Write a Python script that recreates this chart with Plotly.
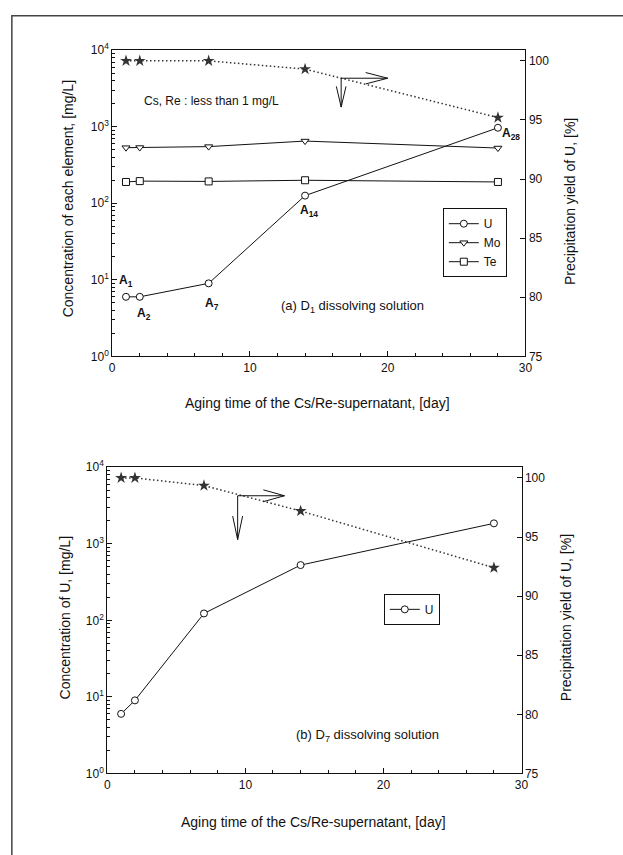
import plotly.graph_objects as go

W, H = 623, 855

# ---------------- data ----------------
days_a = [1, 2, 7, 14, 28]
u_a = [6.0, 6.0, 9.0, 126, 970]
mo_a = [533, 535, 550, 650, 527]
te_a = [190, 195, 193, 200, 190]
yield_a = [100.0, 100.0, 100.0, 99.3, 95.2]

days_b = [1, 2, 7, 14, 28]
u_b = [6.0, 9.0, 123, 527, 1850]
yield_b = [100.0, 100.0, 99.35, 97.2, 92.4]

point_labels_a = ["A<sub>1</sub>", "A<sub>2</sub>", "A<sub>7</sub>", "A<sub>14</sub>", "A<sub>28</sub>"]

log_tickvals = [1, 10, 100, 1000, 10000]
log_ticktext = ["10<sup>0</sup>", "10<sup>1</sup>", "10<sup>2</sup>", "10<sup>3</sup>", "10<sup>4</sup>"]
yield_ticks = [75, 80, 85, 90, 95, 100]

FONT = "Liberation Sans, Arial, sans-serif"
BLACK = "#111111"


def px_x(p):
    return p / W


def px_y(p):
    return 1 - p / H


# axes domains (pixel geometry of the reference)
top_x = [px_x(111), px_x(531)]
top_y = [px_y(354), px_y(42)]
bot_x = [px_x(106), px_x(527)]
bot_y = [px_y(779), px_y(467)]

fig = go.Figure()

line_style = dict(color=BLACK, width=1)
mk = dict(size=7, color="white", line=dict(color=BLACK, width=1))
star_line = dict(color="#333333", width=1.5, dash="1.5px,2.5px")
star_marker = dict(symbol="star", size=9, color="#333333")

# ---- top panel ----
fig.add_trace(go.Scatter(x=days_a, y=u_a, mode="lines+markers", name="U",
                         line=line_style, marker=dict(symbol="circle", **mk),
                         xaxis="x", yaxis="y", legend="legend"))
fig.add_trace(go.Scatter(x=days_a, y=mo_a, mode="lines+markers", name="Mo",
                         line=line_style, marker=dict(symbol="triangle-down", **mk),
                         xaxis="x", yaxis="y", legend="legend"))
fig.add_trace(go.Scatter(x=days_a, y=te_a, mode="lines+markers", name="Te",
                         line=line_style, marker=dict(symbol="square", **mk),
                         xaxis="x", yaxis="y", legend="legend"))
fig.add_trace(go.Scatter(x=days_a, y=yield_a, mode="lines+markers", showlegend=False,
                         line=star_line, marker=star_marker, xaxis="x", yaxis="y2"))

# ---- bottom panel ----
fig.add_trace(go.Scatter(x=days_b, y=u_b, mode="lines+markers", name="U",
                         line=line_style, marker=dict(symbol="circle", **mk),
                         xaxis="x2", yaxis="y3", legend="legend2"))
fig.add_trace(go.Scatter(x=days_b, y=yield_b, mode="lines+markers", showlegend=False,
                         line=star_line, marker=star_marker, xaxis="x2", yaxis="y4"))

tickfont = dict(family=FONT, size=12, color=BLACK)
minor_log = [m * 10 ** d for d in range(4) for m in range(2, 10)]


def xaxis_cfg(domain, anchor):
    return dict(domain=domain, anchor=anchor, range=[0, 30], tickmode="linear", tick0=0, dtick=10,
                ticks="inside", ticklen=5, tickcolor=BLACK, showline=True, linecolor=BLACK,
                linewidth=1, mirror=True, showgrid=False, zeroline=False, tickfont=tickfont,
                minor=dict(ticks="inside", ticklen=3, dtick=2, tick0=0, tickcolor=BLACK, showgrid=False))


def ylog_cfg(domain, anchor):
    return dict(domain=domain, anchor=anchor, type="log", range=[0, 4], tickmode="array",
                tickvals=log_tickvals, ticktext=log_ticktext, ticks="inside", ticklen=5,
                tickcolor=BLACK, showline=True, linecolor=BLACK, linewidth=1, showgrid=False,
                zeroline=False, tickfont=tickfont,
                minor=dict(ticks="inside", ticklen=3, tickvals=minor_log, tickcolor=BLACK, showgrid=False))


def yright_cfg(over, anchor):
    return dict(overlaying=over, anchor=anchor, side="right", range=[75, 100.9], tickmode="array",
                tickvals=yield_ticks, ticks="inside", ticklen=5, tickcolor=BLACK, showline=True,
                linecolor=BLACK, linewidth=1, showgrid=False, zeroline=False, tickfont=tickfont)


fig.update_layout(
    width=W, height=H,
    margin=dict(l=0, r=0, t=0, b=0),
    paper_bgcolor="white", plot_bgcolor="white",
    font=dict(family=FONT, size=12, color=BLACK),
    xaxis=xaxis_cfg(top_x, "y"),
    yaxis=ylog_cfg(top_y, "x"),
    yaxis2=yright_cfg("y", "x"),
    xaxis2=xaxis_cfg(bot_x, "y3"),
    yaxis3=ylog_cfg(bot_y, "x2"),
    yaxis4=yright_cfg("y3", "x2"),
    legend=dict(x=px_x(447), y=px_y(203), xanchor="left", yanchor="top",
                bordercolor=BLACK, borderwidth=1, bgcolor="white",
                font=dict(family=FONT, size=12, color=BLACK), itemwidth=30),
    legend2=dict(x=px_x(387), y=px_y(596), xanchor="left", yanchor="top",
                 bordercolor=BLACK, borderwidth=1, bgcolor="white",
                 font=dict(family=FONT, size=12, color=BLACK), itemwidth=30),
    showlegend=True,
)

ann = []


def text(x, y, s, size=14, angle=0, bold=False):
    ann.append(dict(x=px_x(x), y=px_y(y), xref="paper", yref="paper", text=s, showarrow=False,
                    textangle=angle, xanchor="center", yanchor="middle",
                    font=dict(family=FONT, size=size, color=BLACK,
                              weight="bold" if bold else "normal")))


# axis titles
text(320, 402, "Aging time of the Cs/Re-supernatant, [day]")
text(66, 193, "Concentration of each element, [mg/L]", angle=-90)
text(577, 196, "Precipitation yield of U, [%]", angle=-90)
text(316, 828, "Aging time of the Cs/Re-supernatant, [day]")
text(63, 620, "Concentration of U, [mg/L]", angle=-90)
text(573, 620, "Precipitation yield of U, [%]", angle=-90)

# in-plot texts
text(212, 94, "Cs, Re : less than 1 mg/L", size=12)
text(355, 303, "(a) D<sub>1</sub> dissolving solution", size=13)
text(370, 740, "(b) D<sub>7</sub> dissolving solution", size=13)

# point labels (top panel)
label_px = [(125, 277), (143, 311), (212.5, 301), (311, 206), (516, 127)]
for (lx, ly), s in zip(label_px, point_labels_a):
    text(lx, ly, s, size=12, bold=True)

fig.update_layout(annotations=ann)

# open-chevron arrows indicating the right axis (in x / right-axis data units)
shapes = []


def arrow(xr, yr, x0, y0, xtip, ytip_v, hx_arm, hy_arm, vx_arm, vy_arm):
    st = dict(type="path", xref=xr, yref=yr, line=dict(color=BLACK, width=1))
    # horizontal shaft + head
    shapes.append(dict(st, path=f"M {x0},{y0} L {xtip},{y0}"))
    shapes.append(dict(st, path=f"M {hx_arm},{y0 + hy_arm} L {xtip},{y0} L {hx_arm},{y0 - hy_arm}"))
    # vertical shaft + head
    shapes.append(dict(st, path=f"M {x0},{y0} L {x0},{ytip_v}"))
    shapes.append(dict(st, path=f"M {x0 - vx_arm},{vy_arm} L {x0},{ytip_v} L {x0 + vx_arm},{vy_arm}"))


arrow("x", "y2", 16.62, 98.53, 20.0, 96.09, 18.4, 0.48, 0.35, 97.84)
arrow("x2", "y4", 9.44, 98.49, 12.83, 94.78, 11.3, 0.5, 0.36, 96.77)

# outer frame (only left and top edges visible in the reference)
shapes.append(dict(type="rect", xref="paper", yref="paper", x0=px_x(9), x1=1.05,
                   y0=-0.05, y1=px_y(7), line=dict(color="#444444", width=1.5),
                   fillcolor="rgba(0,0,0,0)", layer="above"))

fig.update_layout(shapes=shapes)

fig.write_html("out.html")
